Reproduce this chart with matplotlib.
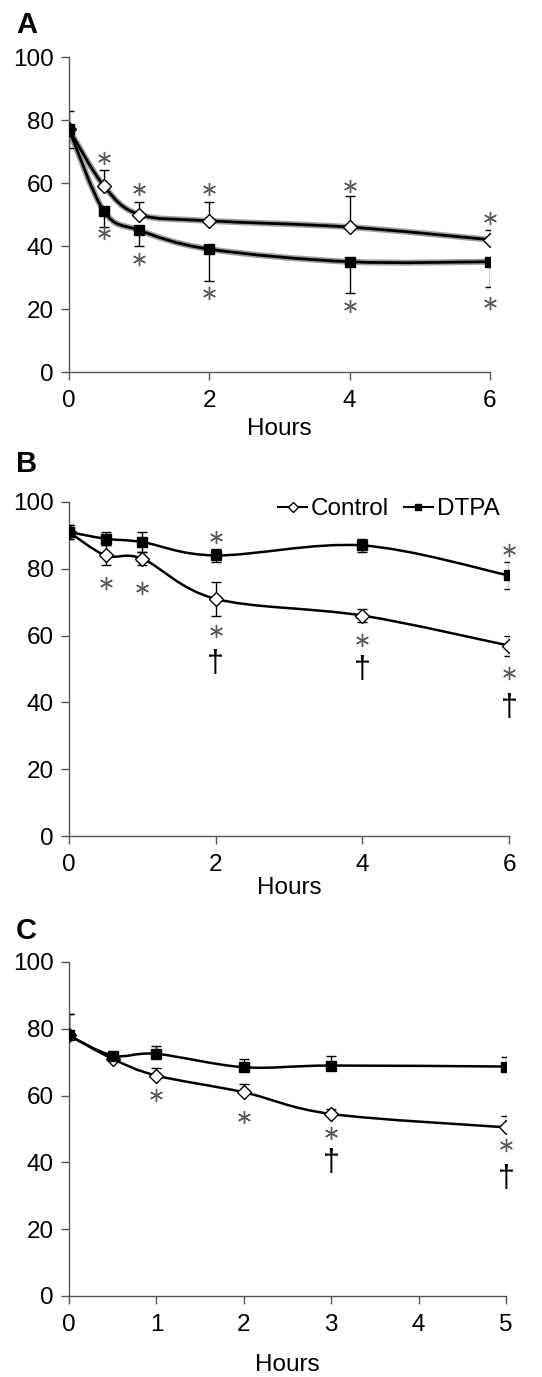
import matplotlib

matplotlib.use("Agg")
import matplotlib.pyplot as plt
from matplotlib.path import Path
from matplotlib.patches import PathPatch

plt.rcParams["font.family"] = ["Liberation Sans", "DejaVu Sans"]

# ---- panel A ----
a_hours = [0, 0.5, 1, 2, 4, 6]
a_control = [77, 59, 50, 48, 46, 42]
a_control_err = [6, 5, 4, 6, 10, 3]
a_dtpa = [77, 51, 45, 39, 35, 35]
a_dtpa_err = [6, 5, 5, 10, 10, 8]
a_star_up_x = [0.5, 1, 2, 4, 6]
a_star_up_y = [68, 58, 58, 59, 49]
a_star_dn_x = [0.5, 1, 2, 4, 6]
a_star_dn_y = [44, 36, 25, 21, 22]

# ---- panel B ----
b_hours = [0, 0.5, 1, 2, 4, 6]
b_control = [91, 84, 83, 71, 66, 57]
b_control_err = [2, 3, 2, 5, 2, 3]
b_dtpa = [91, 89, 88, 84, 87, 78]
b_dtpa_err = [2, 2, 3, 2, 2, 4]
b_star_x = [2, 6, 0.5, 1, 2, 4, 6]
b_star_y = [89.4, 85.6, 75.6, 74.3, 61.4, 58.7, 48.7]
b_dagger_x = [2, 4, 6]
b_dagger_y = [51.5, 49.7, 38.2]

# ---- panel C ----
c_hours = [0, 0.5, 1, 2, 3, 5]
c_control = [78, 71, 66, 61, 54.5, 50.5]
c_control_err = [6.5, 0, 2.2, 2.5, 1.6, 3.4]
c_dtpa = [78, 72, 72.5, 68.5, 69, 68.7]
c_dtpa_err = [6.5, 0, 2.4, 2.5, 3, 2.8]
c_star_x = [1, 2, 3, 5]
c_star_y = [60.2, 53.5, 48.7, 45.2]
c_dagger_x = [3, 5]
c_dagger_y = [39.7, 34.9]

FS = 17.5


def smooth_path(x, y):
    # Excel 样式的平滑曲线 (Bezier, 1/6 张力)
    pts = list(zip(x, y))
    n = len(pts)
    verts = [pts[0]]
    codes = [Path.MOVETO]
    for i in range(n - 1):
        p0 = pts[i - 1] if i > 0 else pts[i]
        p1 = pts[i]
        p2 = pts[i + 1]
        p3 = pts[i + 2] if i + 2 < n else pts[i + 1]
        c1 = (p1[0] + (p2[0] - p0[0]) / 6, p1[1] + (p2[1] - p0[1]) / 6)
        c2 = (p2[0] - (p3[0] - p1[0]) / 6, p2[1] - (p3[1] - p1[1]) / 6)
        verts += [c1, c2, p2]
        codes += [Path.CURVE4] * 3
    return Path(verts, codes)


def draw_series(ax, x, y, marker, face, lw, halo=False):
    if halo:
        ax.add_patch(PathPatch(smooth_path(x, y), fill=False, lw=lw + 2.4,
                               edgecolor="#a0a0a0", zorder=2))
    ax.add_patch(PathPatch(smooth_path(x, y), fill=False, lw=lw,
                           edgecolor="black", zorder=3))
    ax.plot(x, y, ls="none", marker=marker, mfc=face, mec="black",
            mew=1.0, ms=7 if marker == "D" else 6.5, zorder=4)


def errbars(ax, x, y, lo, hi):
    ax.errorbar(x, y, yerr=[lo, hi], fmt="none", ecolor="black",
                elinewidth=1.0, capsize=3.5, capthick=1.0, zorder=2.5)


def stars(ax, x, y):
    ax.plot(x, y, ls="none", marker=(6, 2, 0), ms=9.5, mec="#5a5a5a",
            mew=1.0, zorder=5, clip_on=False)


def daggers(ax, x, y):
    for xi, yi in zip(x, y):
        ax.text(xi, yi, "\u2020", ha="center", va="center", fontsize=22,
                color="black", zorder=5, clip_on=False)


def style_axes(ax, xmax, xticks, labelpad):
    ax.set_xlim(0, xmax)
    ax.set_ylim(0, 100)
    ax.set_xticks(xticks)
    ax.set_yticks([0, 20, 40, 60, 80, 100])
    for s in ["top", "right"]:
        ax.spines[s].set_visible(False)
    for s in ["left", "bottom"]:
        ax.spines[s].set_color("#555555")
        ax.spines[s].set_linewidth(1.0)
    ax.tick_params(axis="both", direction="out", length=6, width=1.0,
                   color="#555555", labelsize=FS, labelcolor="black")
    ax.tick_params(axis="y", pad=5)
    ax.tick_params(axis="x", pad=7)
    ax.set_xlabel("Hours", fontsize=FS, labelpad=labelpad)


fig = plt.figure(figsize=(5.42, 13.77), dpi=100)
W, H = 542, 1377


def add_ax(left, right, top, bottom):
    return fig.add_axes([left / W, 1 - bottom / H, (right - left) / W, (bottom - top) / H])


# A
ax = add_ax(69, 490, 57, 372)
zeros = [0] * len(a_hours)
errbars(ax, a_hours, a_control, zeros, a_control_err)
errbars(ax, a_hours, a_dtpa, a_dtpa_err, zeros)
draw_series(ax, a_hours, a_control, "D", "white", 2.0, halo=True)
draw_series(ax, a_hours, a_dtpa, "s", "black", 2.0, halo=True)
stars(ax, a_star_up_x, a_star_up_y)
stars(ax, a_star_dn_x, a_star_dn_y)
style_axes(ax, 6, [0, 2, 4, 6], 4)

# B
ax = add_ax(69, 509, 502, 836)
errbars(ax, b_hours, b_control, b_control_err, b_control_err)
errbars(ax, b_hours, b_dtpa, b_dtpa_err, b_dtpa_err)
draw_series(ax, b_hours, b_control, "D", "white", 1.8)
draw_series(ax, b_hours, b_dtpa, "s", "black", 1.8)
stars(ax, b_star_x, b_star_y)
daggers(ax, b_dagger_x, b_dagger_y)
style_axes(ax, 6, [0, 2, 4, 6], 1)
h1, = ax.plot([], [], color="black", lw=1.5, marker="D", mfc="white",
              mec="black", ms=5.5)
h2, = ax.plot([], [], color="black", lw=1.5, marker="s", mfc="black",
              mec="black", ms=5)
ax.legend([h1, h2], ["Control", "DTPA"], loc="upper right",
          bbox_to_anchor=(1.0, 1.04), ncols=2, frameon=False, fontsize=FS,
          handlelength=1.2, handletextpad=0.15, columnspacing=0.6,
          borderaxespad=0.0)

# C
ax = add_ax(69, 506, 962, 1296)
zc = [0] * len(c_hours)
errbars(ax, c_hours, c_control, zc, c_control_err)
errbars(ax, c_hours, c_dtpa, zc, c_dtpa_err)
draw_series(ax, c_hours, c_control, "D", "white", 1.8)
draw_series(ax, c_hours, c_dtpa, "s", "black", 1.8)
stars(ax, c_star_x, c_star_y)
daggers(ax, c_dagger_x, c_dagger_y)
style_axes(ax, 5, [0, 1, 2, 3, 4, 5], 13)

# 面板标签
for lbl, yc in [("A", 25), ("B", 464), ("C", 931)]:
    fig.text(16 / W, 1 - yc / H, lbl, fontsize=21, fontweight="bold",
             ha="left", va="center")

fig.savefig("out.png", dpi=100)
